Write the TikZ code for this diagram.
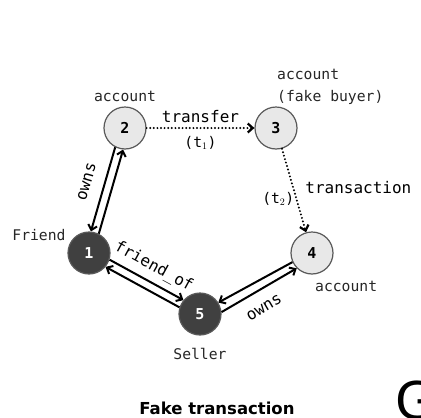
\documentclass[tikz,border=0pt]{standalone}
\usepackage{fontspec}
\setmainfont{DejaVu Sans}
\newfontfamily\monofont{DejaVu Sans Mono}
\usetikzlibrary{positioning,arrows.meta}

\begin{document}
\begin{tikzpicture}[x=1pt, y=-1pt, >={Straight Barb[length=5pt,width=9pt]},
  state/.style={circle, draw=black!65, line width=1.2pt, minimum size=42pt,
    inner sep=0pt, font=\monofont\bfseries\fontsize{15}{15}\selectfont},
  light/.style={state, fill=black!9},
  dark/.style={state, fill=black!75, text=white},
  tag/.style={inner sep=1pt, text=black!85, font=\monofont\fontsize{14.7}{22}\selectfont},
  elabel/.style={inner sep=1pt, font=\monofont\fontsize{16}{18}\selectfont},
  small/.style={font=\monofont\fontsize{14.7}{16}\selectfont},
  link/.style={->, line width=2pt},
  dots/.style={->, line width=2.2pt, line cap=round, dash pattern=on 0pt off 3.6pt}]
  \useasboundingbox (0,0) rectangle (421,418);
  % nodes
  \node[light] (n2) at (125,128) {2};
  \node[light] (n3) at (276,128) {3};
  \node[light] (n4) at (312,253) {4};
  \node[dark]  (n1) at (89,253)  {1};
  \node[dark]  (n5) at (200,314) {5};
  % node labels
  \node[tag, above=3pt of n2] (acc2) {account};
  \node[tag, anchor=south west, align=left] (acc3) at ([yshift=1pt]n3.north) {account\\(fake buyer)};
  \node[tag, anchor=north west] (acc4) at ([xshift=2pt,yshift=-5pt]n4.south) {account};
  \node[tag, anchor=east] (friend) at ([xshift=-7pt,yshift=3pt]n1.north west) {Friend};
  \node[tag, below=11pt of n5] (seller) {Seller};
  % dotted transfers
  \draw[dots] (n2) -- (n3)
    node[elabel, midway, above=3pt] (tr) {transfer}
    node[elabel, small, midway, below=6pt] (t1) {(t$_1$)};
  \draw[dots] (n3) -- (n4)
    node[elabel, pos=.47, right=10pt] (ta) {transaction}
    node[elabel, small, pos=.6, left=0pt] (t2) {(t$_2$)};
  % double links
  \draw[link] (n1.63) -- (n2.265);
  \draw[link] (n2.243) -- (n1.85) node[elabel, pos=.47, sloped, above=11pt] (own1) {owns};
  \draw[link] (n1.-18) -- (n5.140) node[elabel, pos=.5, sloped, above=5pt] (fo) {friend\_of};
  \draw[link] (n5.162) -- (n1.-40);
  \draw[link] (n4.205) -- (n5.32);
  \draw[link] (n5.5) -- (n4.225) node[elabel, pos=.45, sloped, below=11pt] (own2) {owns};
  % caption
  \node[font=\bfseries\fontsize{16.5}{16.5}\selectfont] (title) at (217,408) {Fake transaction};
  \begin{scope}
    \clip (0,0) rectangle (421,418);
    \node[inner sep=0pt, anchor=base west, font=\fontsize{52}{52}\selectfont] (gmark) at (395,419) {G};
  \end{scope}
\end{tikzpicture}
\end{document}
